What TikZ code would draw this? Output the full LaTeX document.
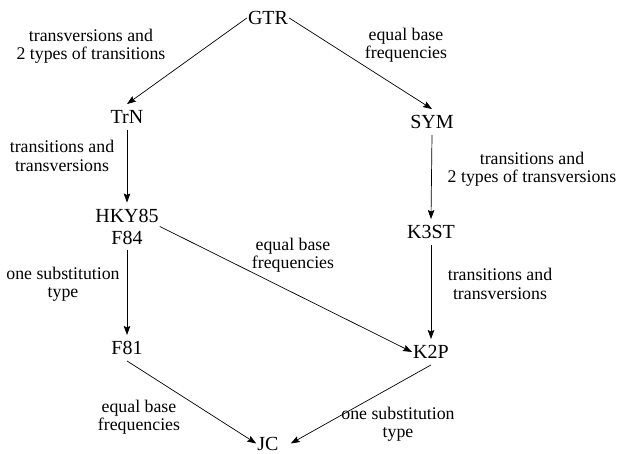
\documentclass[tikz,border=0pt]{standalone}
\usepackage{fontspec}
\setmainfont{LiberationSerif}[Extension=.ttf, UprightFont=*-Regular, BoldFont=*-Bold]
\usetikzlibrary{arrows.meta}
\tikzset{
  model/.style={font=\fontsize{20}{22}\selectfont, inner xsep=1pt, inner ysep=6pt, text height=13.5pt, text depth=0pt},
  twoline/.style={font=\fontsize{20}{22}\selectfont, inner xsep=1pt, inner ysep=6pt, align=center},
  lab/.style={font=\fontsize{17.8}{18.5}\selectfont, align=center, inner sep=0pt},
  arr/.style={-{Stealth[length=9pt,width=6.5pt,inset=1.5pt]}, line width=0.7pt}
}
\begin{document}
\begin{tikzpicture}[x=1pt,y=-1pt]
\useasboundingbox (0,0) rectangle (618,454);
% models
\node[model] (GTR) at (268,18) {GTR};
\node[model] (TrN) at (127,117) {TrN};
\node[model] (SYM) at (432,122) {SYM};
\node[twoline] (HKY) at (127,226.5) {HKY85\\F84};
\node[model] (K3ST) at (431,232) {K3ST};
\node[model] (F81) at (127,348) {F81};
\node[model] (K2P) at (431,352) {K2P};
\node[model] (JC) at (268,443.5) {JC};
% labels
\node[lab] (l1) at (91,46) {transversions and\\2 types of transitions};
\node[lab] (l2) at (406,45) {equal base\\frequencies};
\node[lab] (l3) at (62,156) {transitions and\\transversions};
\node[lab] (l4) at (532,169) {transitions and\\2 types of transversions};
\node[lab] (l5) at (293,255) {equal base\\frequencies};
\node[lab] (l6) at (63,284) {one substitution\\type};
\node[lab] (l7) at (500,284) {transitions and\\transversions};
\node[lab] (l8) at (139,417) {equal base\\frequencies};
\node[lab] (l9) at (398,424) {one substitution\\type};
% connectors
\draw[arr] (GTR.west) -- (TrN.north);
\draw[arr] (GTR.east) -- (SYM.north);
\draw[arr] (TrN.south) -- (HKY.north);
\draw[arr] (SYM.south) -- (K3ST.north);
\draw[arr] (HKY.south) -- (F81.north);
\draw[arr] (K3ST.south) -- (K2P.north);
\draw[arr] (HKY.east) -- (K2P.west);
\draw[arr] (F81.south) -- (JC.west);
\draw[arr] (K2P.south) -- ([xshift=11pt]JC.east);
\end{tikzpicture}
\end{document}
